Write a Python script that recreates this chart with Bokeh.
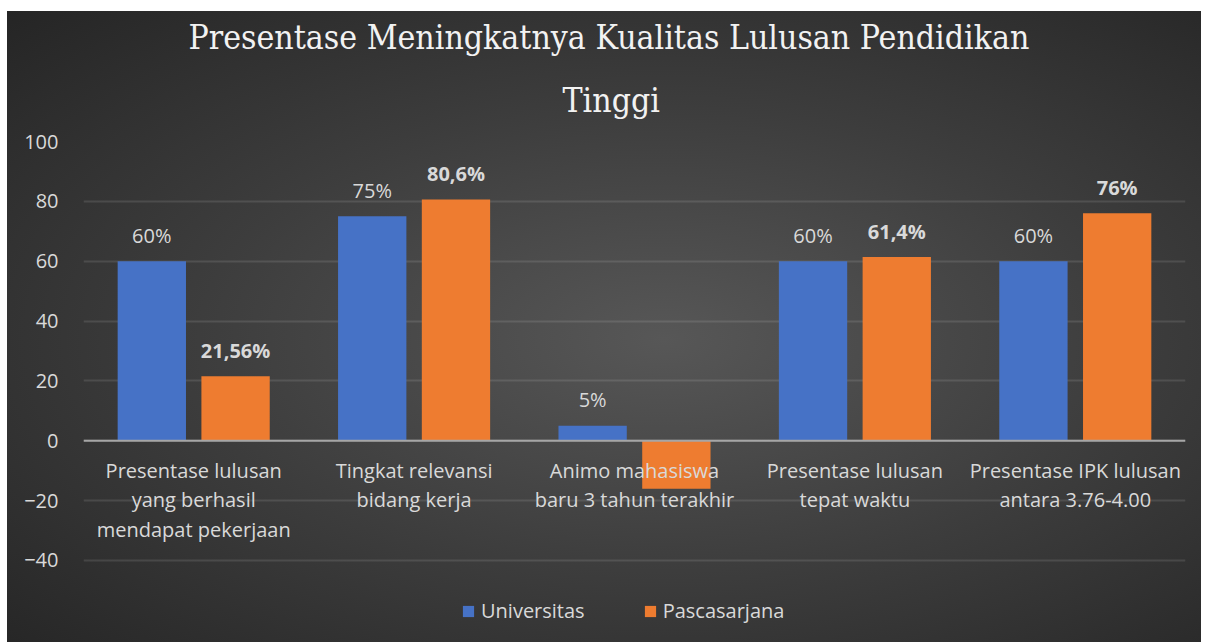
from bokeh.plotting import figure
from bokeh.models import Range1d, FactorRange, FixedTicker, Legend, LegendItem, ColumnDataSource, Title, Span
from bokeh.transform import dodge
from bokeh.core.properties import value
from bokeh.embed import file_html
from bokeh.resources import INLINE

# ---- data ----
categories = [
    "Presentase lulusan yang berhasil mendapat pekerjaan",
    "Tingkat relevansi bidang kerja",
    "Animo mahasiswa baru 3 tahun terakhir",
    "Presentase lulusan tepat waktu",
    "Presentase IPK lulusan antara 3.76-4.00",
]
category_lines = [
    "Presentase lulusan\nyang berhasil\nmendapat pekerjaan",
    "Tingkat relevansi\nbidang kerja",
    "Animo mahasiswa\nbaru 3 tahun terakhir",
    "Presentase lulusan\ntepat waktu",
    "Presentase IPK lulusan\nantara 3.76-4.00",
]
universitas = [60, 75, 5, 60, 60]
pascasarjana = [21.56, 80.6, -16, 61.4, 76]
universitas_labels = ["60%", "75%", "5%", "60%", "60%"]
pascasarjana_labels = ["21,56%", "80,6%", "", "61,4%", "76%"]
y_ticks = [-40, -20, 0, 20, 40, 60, 80, 100]
series_names = ["Universitas", "Pascasarjana"]
title_lines = ["Presentase Meningkatnya Kualitas Lulusan Pendidikan", "Tinggi"]

FONT = "Open Sans"
FS = "20px"
TXT = "#d9d9d9"

src = ColumnDataSource(dict(
    cat=categories, cat_lab=category_lines, zero=[0] * len(categories),
    uni=universitas, pas=pascasarjana,
    uni_lab=universitas_labels, pas_lab=pascasarjana_labels,
))

# y range extends below -40 to leave room for the legend inside the plot area
p = figure(
    width=1194, height=631,
    x_range=FactorRange(*categories), y_range=Range1d(-67.4, 100),
    output_backend="svg", toolbar_location=None,
    min_border_left=76, min_border_right=16, min_border_bottom=0, min_border_top=130,
)
p.styles = {
    "background": "radial-gradient(ellipse at 55% 52%, #575757 0%, #3d3d3d 50%, #252525 100%)",
    "margin-left": "7px",
    "margin-top": "11px",
}
p.background_fill_alpha = 0
p.border_fill_alpha = 0
p.outline_line_color = None

# title (two lines, centred on the whole chart area)
p.title = None
title_offsets = [105, 479]      # pixels from the plot area's left edge
title_standoffs = [0, 44]
for line, off, so in reversed(list(zip(title_lines, title_offsets, title_standoffs))):
    t = Title(text=line, align="left", offset=off, standoff=so,
              text_font="DejaVu Serif Condensed", text_font_size="33.5px",
              text_font_style="normal", text_color="#f2f2f2", text_line_height=0.75)
    p.add_layout(t, "above")

# grid & axes
p.yaxis.ticker = FixedTicker(ticks=y_ticks)
p.yaxis.axis_line_color = None
p.yaxis.major_tick_line_color = None
p.yaxis.minor_tick_line_color = None
p.yaxis.major_label_text_color = TXT
p.yaxis.major_label_text_font = FONT
p.yaxis.major_label_text_font_size = FS
p.yaxis.major_label_standoff = 19
p.xaxis.visible = False
p.xgrid.grid_line_color = None
p.ygrid.grid_line_color = "#ffffff"
p.ygrid.grid_line_alpha = 0.11
p.ygrid.grid_line_width = 2

# bars
W = 0.31
r_uni = p.vbar(x=dodge("cat", -0.19, range=p.x_range), top="uni", bottom=0, width=W,
               source=src, fill_color="#4672c6", line_color=None)
r_pas = p.vbar(x=dodge("cat", 0.19, range=p.x_range), top="pas", bottom=0, width=W,
               source=src, fill_color="#ee7c30", line_color=None)

# zero line
p.add_layout(Span(location=0, dimension="width", line_color="#a6a6a6", line_width=2))

# category labels just under the zero line
p.text(x="cat", y="zero", text="cat_lab", source=src,
       text_align="center", text_baseline="top", y_offset=16,
       text_font=value(FONT), text_font_size=FS, text_color=TXT,
       text_line_height=1.1)

# data labels
p.text(x=dodge("cat", -0.19, range=p.x_range), y="uni", text="uni_lab", source=src,
       text_align="center", text_baseline="alphabetic", y_offset=-26,
       text_font=value(FONT), text_font_size=FS, text_color=TXT)
p.text(x=dodge("cat", 0.19, range=p.x_range), y="pas", text="pas_lab", source=src,
       text_align="center", text_baseline="alphabetic", y_offset=-26,
       text_font=value(FONT), text_font_size=FS, text_font_style="bold", text_color=TXT)

legend = Legend(items=[LegendItem(label=series_names[0], renderers=[r_uni]),
                       LegendItem(label=series_names[1], renderers=[r_pas])],
                location=(378, 18), orientation="horizontal")
legend.background_fill_alpha = 0
legend.border_line_color = None
legend.label_text_color = TXT
legend.label_text_font = FONT
legend.label_text_font_size = FS
legend.glyph_width = 14
legend.glyph_height = 14
legend.label_standoff = 6
legend.spacing = 58
legend.margin = 0
p.add_layout(legend, "center")

open("out.html", "w").write(file_html(p, INLINE))
